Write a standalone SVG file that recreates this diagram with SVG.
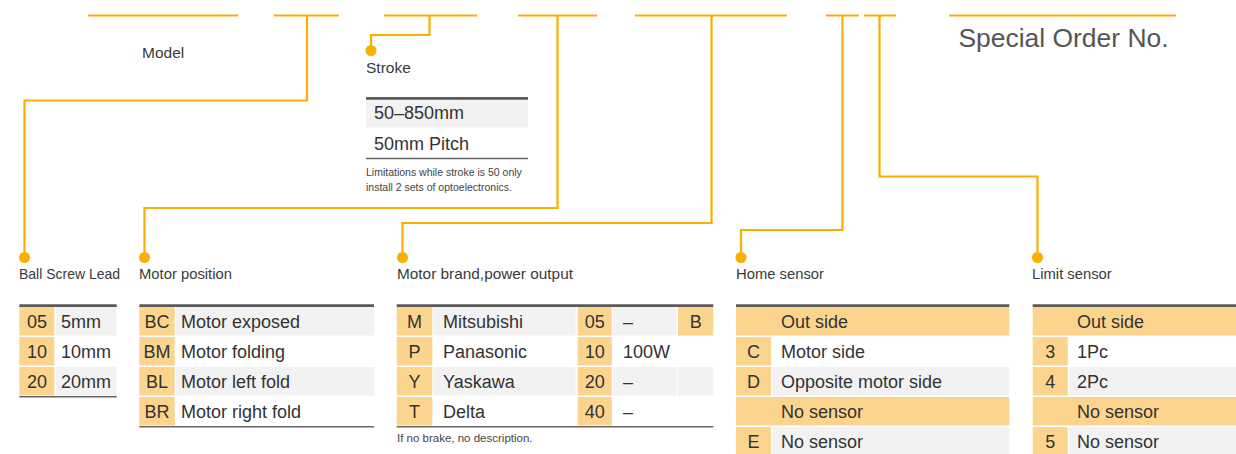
<svg xmlns="http://www.w3.org/2000/svg" width="1236" height="454" viewBox="0 0 1236 454">
<style>
text{font-family:"Liberation Sans",Arial,sans-serif;fill:#333}
.ln{stroke:#F9AF00;stroke-width:2.2;fill:none}
.dot{fill:#F9AF00}
.lbl{font-size:14.8px;fill:#3a3a3a}
.cell{font-size:18px}
.c{text-anchor:middle}
.o{fill:#FBD58E}
.g{fill:#F2F2F2}
.top{stroke:#5a5a5a;stroke-width:2.8}
.bot{stroke:#666;stroke-width:1.5}
.note{font-size:10.5px;fill:#444}
</style>
<rect width="1236" height="454" fill="#fff"/>
<g id="connectors">
<path class="ln" d="M88 15.5H238M274 15.5H339M384 15.5H477M518 15.5H597M635 15.5H787M826 15.5H859M864 15.5H896M949 15.5H1176"/>
<path class="ln" d="M429.5 15.5V35H371V50"/>
<path class="ln" d="M307 15.5V100.5H24.5V257"/>
<path class="ln" d="M557.5 15.5V208H144.5V257"/>
<path class="ln" d="M711.5 15.5V223H402.5V257"/>
<path class="ln" d="M842.5 15.5V230H741V257"/>
<path class="ln" d="M879.5 15.5V176.5H1037.5V257"/>
<circle class="dot" cx="371" cy="50.5" r="5.5"/>
<circle class="dot" cx="24.5" cy="257.5" r="5.5"/>
<circle class="dot" cx="144.5" cy="257.5" r="5.5"/>
<circle class="dot" cx="402.5" cy="257.5" r="5.5"/>
<circle class="dot" cx="741" cy="257.5" r="5.5"/>
<circle class="dot" cx="1037.5" cy="257.5" r="5.5"/>
</g>
<g id="model"><text class="lbl" x="142" y="57.5" style="font-size:15.5px">Model</text></g>
<g id="special"><text x="958.5" y="46.5" textLength="210" lengthAdjust="spacingAndGlyphs" style="font-size:25.5px;fill:#555">Special Order No.</text></g>
<g id="stroke">
<text class="lbl" x="366" y="72.5" style="font-size:15.5px">Stroke</text>
<rect class="g" x="366" y="99.5" width="162" height="28"/>
<line class="top" x1="366" y1="98.3" x2="528" y2="98.3"/>
<text class="cell" x="374" y="119">50–850mm</text>
<text class="cell" x="374" y="149.5">50mm Pitch</text>
<line class="bot" x1="366" y1="158.5" x2="528" y2="158.5"/>
<text class="note" x="366" y="175.5">Limitations while stroke is 50 only</text>
<text class="note" x="366" y="191">install 2 sets of optoelectronics.</text>
</g>
<g id="ballscrew">
<text class="lbl" x="19" y="278.5" textLength="101" lengthAdjust="spacingAndGlyphs">Ball Screw Lead</text>
<rect class="o" x="19.3" y="307" width="35" height="28.5"/>
<rect class="g" x="56" y="307" width="60.7" height="28.5"/>
<rect class="o" x="19.3" y="337" width="35" height="28.5"/>
<rect class="o" x="19.3" y="367" width="35" height="28.5"/>
<rect class="g" x="56" y="367" width="60.7" height="28.5"/>
<line class="top" x1="19.3" y1="305.6" x2="116.7" y2="305.6"/>
<line class="bot" x1="19.3" y1="396.7" x2="116.7" y2="396.7"/>
<text class="cell c" x="37" y="327.5">05</text><text class="cell" x="61" y="327.5">5mm</text>
<text class="cell c" x="37" y="357.5">10</text><text class="cell" x="61" y="357.5">10mm</text>
<text class="cell c" x="37" y="387.5">20</text><text class="cell" x="61" y="387.5">20mm</text>
</g>
<g id="motorposition">
<text class="lbl" x="139" y="278.5">Motor position</text>
<rect class="o" x="139.3" y="307" width="35.4" height="28.5"/>
<rect class="g" x="176" y="307" width="198" height="28.5"/>
<rect class="o" x="139.3" y="337" width="35.4" height="28.5"/>
<rect class="o" x="139.3" y="367" width="35.4" height="28.5"/>
<rect class="g" x="176" y="367" width="198" height="28.5"/>
<rect class="o" x="139.3" y="397" width="35.4" height="28.5"/>
<line class="top" x1="139.3" y1="305.6" x2="374" y2="305.6"/>
<line class="bot" x1="139.3" y1="426.8" x2="374" y2="426.8"/>
<text class="cell c" x="157" y="327.5">BC</text><text class="cell" x="181" y="327.5">Motor exposed</text>
<text class="cell c" x="157" y="357.5">BM</text><text class="cell" x="181" y="357.5">Motor folding</text>
<text class="cell c" x="157" y="387.5">BL</text><text class="cell" x="181" y="387.5">Motor left fold</text>
<text class="cell c" x="157" y="417.5">BR</text><text class="cell" x="181" y="417.5">Motor right fold</text>
</g>
<g id="motorbrand">
<text class="lbl" x="397" y="278.5" textLength="176" lengthAdjust="spacingAndGlyphs">Motor brand,power output</text>
<rect class="o" x="396.7" y="307" width="35.6" height="28.5"/>
<rect class="g" x="433.3" y="307" width="142.4" height="28.5"/>
<rect class="o" x="577.7" y="307" width="34" height="28.5"/>
<rect class="g" x="612.7" y="307" width="64" height="28.5"/>
<rect class="o" x="678" y="307" width="35.3" height="28.5"/>
<rect class="o" x="396.7" y="337" width="35.6" height="28.5"/>
<rect class="o" x="577.7" y="337" width="34" height="28.5"/>
<rect class="o" x="396.7" y="367" width="35.6" height="28.5"/>
<rect class="g" x="433.3" y="367" width="142.4" height="28.5"/>
<rect class="o" x="577.7" y="367" width="34" height="28.5"/>
<rect class="g" x="612.7" y="367" width="64" height="28.5"/>
<rect class="g" x="678" y="367" width="35.3" height="28.5"/>
<rect class="o" x="396.7" y="397" width="35.6" height="28.5"/>
<rect class="o" x="577.7" y="397" width="34" height="28.5"/>
<line class="top" x1="396.7" y1="305.6" x2="713.3" y2="305.6"/>
<line class="bot" x1="396.7" y1="426.8" x2="713.3" y2="426.8"/>
<text class="cell c" x="414.5" y="327.5">M</text><text class="cell" x="443" y="327.5">Mitsubishi</text><text class="cell c" x="594.7" y="327.5">05</text><text class="cell" x="623" y="327.5">–</text><text class="cell c" x="695.7" y="327.5">B</text>
<text class="cell c" x="414.5" y="357.5">P</text><text class="cell" x="443" y="357.5">Panasonic</text><text class="cell c" x="594.7" y="357.5">10</text><text class="cell" x="623" y="357.5">100W</text>
<text class="cell c" x="414.5" y="387.5">Y</text><text class="cell" x="443" y="387.5">Yaskawa</text><text class="cell c" x="594.7" y="387.5">20</text><text class="cell" x="623" y="387.5">–</text>
<text class="cell c" x="414.5" y="417.5">T</text><text class="cell" x="443" y="417.5">Delta</text><text class="cell c" x="594.7" y="417.5">40</text><text class="cell" x="623" y="417.5">–</text>
<text class="note" x="397" y="442" style="font-size:11.5px">If no brake, no description.</text>
</g>
<g id="homesensor">
<text class="lbl" x="736" y="278.5">Home sensor</text>
<rect class="o" x="736" y="307" width="273.3" height="28.5"/>
<rect class="o" x="736" y="337" width="35" height="28.5"/>
<rect class="o" x="736" y="367" width="35" height="28.5"/>
<rect class="g" x="772.5" y="367" width="236.8" height="28.5"/>
<rect class="o" x="736" y="397" width="273.3" height="28.5"/>
<rect class="o" x="736" y="427" width="35" height="28.5"/>
<rect class="g" x="772.5" y="427" width="236.8" height="28.5"/>
<line class="top" x1="736" y1="305.6" x2="1009.3" y2="305.6"/>
<text class="cell" x="781" y="327.5">Out side</text>
<text class="cell c" x="753.5" y="357.5">C</text><text class="cell" x="781" y="357.5">Motor side</text>
<text class="cell c" x="753.5" y="387.5">D</text><text class="cell" x="781" y="387.5">Opposite motor side</text>
<text class="cell" x="781" y="417.5">No sensor</text>
<text class="cell c" x="753.5" y="447.5">E</text><text class="cell" x="781" y="447.5">No sensor</text>
</g>
<g id="limitsensor">
<text class="lbl" x="1032" y="278.5">Limit sensor</text>
<rect class="o" x="1032.7" y="307" width="203.3" height="28.5"/>
<rect class="o" x="1032.7" y="337" width="35" height="28.5"/>
<rect class="o" x="1032.7" y="367" width="35" height="28.5"/>
<rect class="g" x="1069" y="367" width="167" height="28.5"/>
<rect class="o" x="1032.7" y="397" width="203.3" height="28.5"/>
<rect class="o" x="1032.7" y="427" width="35" height="28.5"/>
<rect class="g" x="1069" y="427" width="167" height="28.5"/>
<line class="top" x1="1032.7" y1="305.6" x2="1236" y2="305.6"/>
<text class="cell" x="1077" y="327.5">Out side</text>
<text class="cell c" x="1050.2" y="357.5">3</text><text class="cell" x="1077" y="357.5">1Pc</text>
<text class="cell c" x="1050.2" y="387.5">4</text><text class="cell" x="1077" y="387.5">2Pc</text>
<text class="cell" x="1077" y="417.5">No sensor</text>
<text class="cell c" x="1050.2" y="447.5">5</text><text class="cell" x="1077" y="447.5">No sensor</text>
</g>
</svg>
